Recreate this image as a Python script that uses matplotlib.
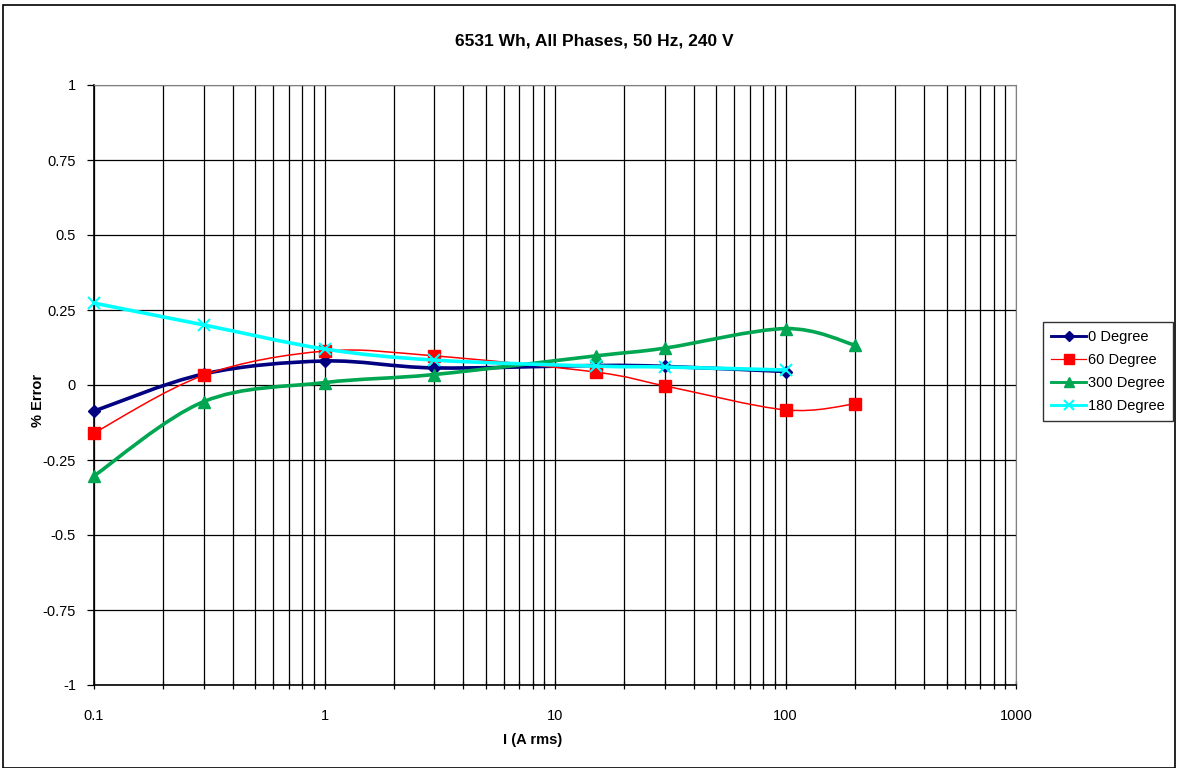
import numpy as np
import matplotlib
matplotlib.use("Agg")
import matplotlib.pyplot as plt
from matplotlib.path import Path
from matplotlib.patches import PathPatch, Rectangle
from matplotlib.lines import Line2D
from matplotlib.ticker import LogLocator, FixedLocator, NullFormatter, FuncFormatter

plt.rcParams['font.family'] = ['Liberation Sans', 'DejaVu Sans']

current_0 = [0.1, 0.3, 1, 3, 15, 30, 100]
error_0 = [-0.087, 0.037, 0.080, 0.057, 0.065, 0.062, 0.045]

current_60 = [0.1, 0.3, 1, 3, 15, 30, 100, 200]
error_60 = [-0.16, 0.033, 0.113, 0.097, 0.043, -0.003, -0.083, -0.063]

current_300 = [0.1, 0.3, 1, 3, 15, 30, 100, 200]
error_300 = [-0.303, -0.055, 0.008, 0.035, 0.097, 0.123, 0.188, 0.133]

current_180 = [0.1, 0.3, 1, 3, 15, 30, 100]
error_180 = [0.273, 0.200, 0.120, 0.083, 0.063, 0.060, 0.050]

series_names = ["0 Degree", "60 Degree", "300 Degree", "180 Degree"]
title = "6531 Wh, All Phases, 50 Hz, 240 V"
xlabel = "I (A rms)"
ylabel = "% Error"
y_ticks = [-1, -0.75, -0.5, -0.25, 0, 0.25, 0.5, 0.75, 1]
y_tick_labels = ["-1", "-0.75", "-0.5", "-0.25", "0", "0.25", "0.5", "0.75", "1"]
x_ticks = [0.1, 1, 10, 100, 1000]
x_tick_labels = ["0.1", "1", "10", "100", "1000"]


def smooth_path(xs, ys):
    u = np.log10(np.asarray(xs, float))
    v = np.asarray(ys, float)
    P = np.column_stack([u, v])
    n = len(P)
    verts = [P[0]]
    codes = [Path.MOVETO]
    for i in range(n - 1):
        p_prev = P[i - 1] if i > 0 else P[i]
        p_next2 = P[i + 2] if i + 2 < n else P[i + 1]
        c1 = P[i] + (P[i + 1] - p_prev) / 6.0
        c2 = P[i + 1] - (p_next2 - P[i]) / 6.0
        verts += [c1, c2, P[i + 1]]
        codes += [Path.CURVE4] * 3
    verts = np.array(verts)
    verts[:, 0] = 10 ** verts[:, 0]
    return Path(verts, codes)


W, H = 1179, 768
fig = plt.figure(figsize=(W / 100, H / 100), dpi=100)
ax = fig.add_axes([94 / W, 1 - 685 / H, (1016 - 94) / W, 600 / H])
ax.set_xscale('log')
ax.set_xlim(0.1, 1000)
ax.set_ylim(-1, 1)

ax.xaxis.set_major_locator(FixedLocator(x_ticks))
ax.xaxis.set_major_formatter(FuncFormatter(lambda v, p: x_tick_labels[x_ticks.index(v)] if v in x_ticks else ""))
ax.xaxis.set_minor_locator(LogLocator(base=10, subs=np.arange(2, 10)))
ax.xaxis.set_minor_formatter(NullFormatter())
ax.set_yticks(y_ticks)
ax.set_yticklabels(y_tick_labels)

ax.grid(True, which='both', axis='x', color='#000000', lw=0.9)
ax.grid(True, which='major', axis='y', color='#000000', lw=0.9)
ax.set_axisbelow(True)
ax.tick_params(axis='y', direction='out', length=5, width=0.9, labelsize=10.5, pad=8)
ax.tick_params(axis='x', which='both', direction='inout', length=6, width=0.9, labelsize=10.5, pad=14)
for s in ['top', 'right']:
    ax.spines[s].set_color('#808080')
for s in ['left', 'bottom']:
    ax.spines[s].set_color('#000000')
    ax.spines[s].set_linewidth(1.2)

styles = [
    dict(color='#000080', lw=2.6, marker='D', ms=6.5, mew=1),
    dict(color='#FF0000', lw=1.1, marker='s', ms=8.5, mew=1),
    dict(color='#00A651', lw=2.6, marker='^', ms=8.5, mew=1),
    dict(color='#00FFFF', lw=2.6, marker='x', ms=8, mew=1.5),
]
data = [(current_0, error_0), (current_60, error_60), (current_300, error_300), (current_180, error_180)]
handles = []
for k, ((xs, ys), st, name) in enumerate(zip(data, styles, series_names)):
    patch = PathPatch(smooth_path(xs, ys), fill=False, edgecolor=st['color'], lw=st['lw'], zorder=3 + k)
    ax.add_patch(patch)
    ax.plot(xs, ys, linestyle='none', marker=st['marker'], ms=st['ms'], color=st['color'],
            mec=st['color'], mew=st['mew'], zorder=3.5 + k, clip_on=False)
    handles.append(Line2D([], [], color=st['color'], lw=st['lw'] * 0.8, marker=st['marker'],
                          ms=st['ms'] * 0.85, mew=st['mew'], label=name))

fig.text(594 / W, 1 - 41 / H, title, fontsize=12.5, fontweight='bold', ha='center', va='center')
fig.text(533 / W, 1 - 740 / H, xlabel, fontsize=10.5, fontweight='bold', ha='center', va='center')
fig.text(38 / W, 1 - 400 / H, ylabel, fontsize=10.5, fontweight='bold', ha='center', va='center',
         rotation=90)

leg = fig.legend(handles=handles, loc='upper left', bbox_to_anchor=(1043 / W, 1 - 322 / H),
                 frameon=True, fancybox=False, edgecolor='#000000', fontsize=10.5,
                 handlelength=2.4, handletextpad=0.15, labelspacing=0.62, borderpad=0.55,
                 borderaxespad=0)
leg.get_frame().set_linewidth(1.0)

fig.patches.append(Rectangle((3 / W, 0), 1172 / W, 1 - 5 / H, transform=fig.transFigure,
                             fill=False, edgecolor='#000000', lw=1.2))

fig.savefig('out.png', dpi=100)
